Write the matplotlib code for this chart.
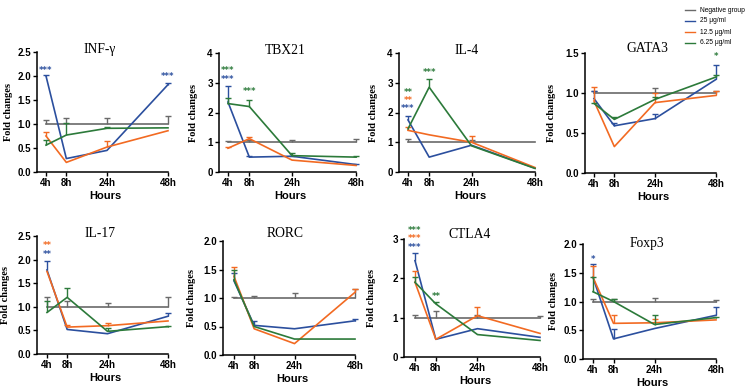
import numpy as np
import matplotlib.pyplot as plt

# time points and groups
hours = ["4h", "8h", "24h", "48h"]
hour_pos = [0, 1, 3, 6]
groups = ["Negative group", "25 μg/ml", "12.5 μg/ml", "6.25 μg/ml"]
colors = ["#6a6a6a", "#2b4f9e", "#f26a22", "#2c7a3a"]

genes = ["INF-γ", "TBX21", "IL-4", "GATA3", "IL-17", "RORC", "CTLA4", "Foxp3"]

# means (rows: negative, 25, 12.5, 6.25)
inf_mean = [[1, 1, 1, 1], [2.0, 0.28, 0.45, 1.82], [0.75, 0.2, 0.52, 0.86], [0.56, 0.77, 0.91, 0.92]]
tbx_mean = [[1, 1, 1, 1], [2.35, 0.5, 0.53, 0.25], [0.8, 1.12, 0.4, 0.22], [2.3, 2.2, 0.55, 0.5]]
il4_mean = [[1, 1, 1, 1], [1.75, 0.5, 0.9, 0.13], [1.4, 1.25, 1.0, 0.15], [1.45, 2.85, 0.88, 0.12]]
gata_mean = [[1, 1, 1, 1], [0.93, 0.59, 0.68, 1.17], [0.9, 0.33, 0.88, 0.97], [0.87, 0.67, 0.92, 1.2]]
il17_mean = [[1, 1, 1, 1], [1.78, 0.52, 0.43, 0.8], [1.75, 0.57, 0.6, 0.7], [0.88, 1.2, 0.48, 0.58]]
rorc_mean = [[1, 1, 1, 1], [1.3, 0.52, 0.46, 0.6], [1.38, 0.46, 0.2, 1.1], [1.32, 0.5, 0.28, 0.28]]
ctla_mean = [[1, 1, 1, 1], [2.45, 0.45, 0.72, 0.5], [1.9, 0.45, 1.05, 0.6], [1.9, 1.35, 0.57, 0.42]]
foxp_mean = [[1, 1, 1, 1], [1.42, 0.35, 0.53, 0.76], [1.42, 0.62, 0.63, 0.68], [1.17, 1.0, 0.6, 0.72]]

# upper ends of error bars (nan = no visible bar)
nan = np.nan
inf_top = [[1.08, 1.13, 1.13, 1.16], [2.03, nan, nan, 1.85], [0.83, nan, 0.65, nan], [0.67, 1.03, 0.93, nan]]
tbx_top = [[1.04, 1.08, 1.07, 1.1], [2.88, 0.55, 0.55, 0.27], [0.85, 1.17, nan, nan], [2.48, 2.42, 0.65, 0.55]]
il4_top = [[1.12, nan, 1.08, nan], [1.88, nan, nan, nan], [1.52, nan, 1.22, nan], [nan, 3.12, nan, nan]]
gata_top = [[1.03, nan, 1.06, 1.03], [1.02, 0.63, 0.74, 1.35], [1.08, nan, 1.0, 1.03], [0.88, 0.7, 0.95, 1.22]]
il17_top = [[1.2, 1.13, 1.07, 1.2], [1.98, nan, nan, 0.87], [nan, 0.62, 0.65, nan], [1.12, 1.4, 0.55, 0.6]]
rorc_top = [[1.02, 1.03, 1.09, 1.15], [1.44, 0.6, nan, 0.64], [1.55, nan, nan, 1.15], [1.5, nan, nan, nan]]
ctla_top = [[1.07, 1.17, 1.07, 1.05], [2.65, nan, nan, nan], [2.18, nan, 1.28, nan], [2.03, 1.4, nan, nan]]
foxp_top = [[1.05, 1.05, 1.06, 1.03], [1.65, 0.53, nan, 0.9], [1.62, 0.76, 0.7, nan], [1.42, 1.05, 0.76, 0.73]]

means = [inf_mean, tbx_mean, il4_mean, gata_mean, il17_mean, rorc_mean, ctla_mean, foxp_mean]
tops = [inf_top, tbx_top, il4_top, gata_top, il17_top, rorc_top, ctla_top, foxp_top]

# significance marks: (time index, group index, label, y)
stars = [
    [(0, 1, "***", 2.12), (3, 1, "***", 1.98)],
    [(0, 3, "***", 3.4), (0, 1, "***", 3.1), (1, 3, "***", 2.7)],
    [(0, 3, "**", 2.66), (0, 2, "**", 2.4), (0, 1, "***", 2.14), (1, 3, "***", 3.35)],
    [(3, 3, "*", 1.45)],
    [(0, 2, "**", 2.3), (0, 1, "**", 2.1)],
    [],
    [(0, 3, "***", 3.22), (0, 2, "***", 3.0), (0, 1, "***", 2.78), (1, 3, "**", 1.55)],
    [(0, 1, "*", 1.73)],
]

yticks = [
    [0, 0.5, 1.0, 1.5, 2.0, 2.5], [0, 1, 2, 3, 4], [0, 1, 2, 3, 4], [0, 0.5, 1.0, 1.5],
    [0, 0.5, 1.0, 1.5, 2.0, 2.5], [0, 0.5, 1.0, 1.5, 2.0], [0, 1, 2, 3], [0, 0.5, 1.0, 1.5, 2.0],
]
yfmt = ["%.1f", "%d", "%d", "%.1f", "%.1f", "%.1f", "%d", "%.1f"]

# panel placement in pixels: left spine x, 4h x, 48h x, y of zero, y of top
W, H = 750, 391
layout = [
    (37, 46, 168, 172, 52), (219, 228, 356, 172, 53), (399, 408, 535, 172, 53), (585, 594, 716, 173, 53),
    (37, 47, 168, 354, 236), (223, 234, 355, 355, 241), (404, 415, 540, 357, 239), (583, 593, 716, 359, 244),
]
title_xy = [(100, 50), (285, 51), (467, 50), (647, 49), (100, 233), (285, 233), (470, 235), (647, 244)]
ylab_x = [9, 194, 373, 552, 6, 191, 372, 553]

fig = plt.figure(figsize=(W / 100, H / 100), dpi=100)

for i, gene in enumerate(genes):
    left, x4, x48, y0, ytop = layout[i]
    ax = fig.add_axes([left / W, 1 - y0 / H, (x48 - left) / W, (y0 - ytop) / H])
    unit = (x48 - x4) / hour_pos[-1]
    ax.set_xlim(-(x4 - left) / unit, hour_pos[-1])
    ax.set_ylim(0, yticks[i][-1])

    order = [0, 3, 2, 1]
    for g in order:
        m = np.array(means[i][g], dtype=float)
        t = np.array(tops[i][g], dtype=float)
        ax.plot(hour_pos, m, color=colors[g], lw=1.2, zorder=3 + g, clip_on=False)
        ok = ~np.isnan(t)
        xs = np.array(hour_pos)[ok]
        ax.vlines(xs, m[ok], t[ok], color=colors[g], lw=1.0, zorder=3 + g, clip_on=False)
        ax.plot(xs, t[ok], ls="none", marker="_", ms=5, mew=1.0, color=colors[g], zorder=3 + g, clip_on=False)

    for ti, g, lab, yv in stars[i]:
        ax.text(hour_pos[ti], yv, lab, color=colors[g], fontsize=6, ha="center", va="center",
                fontweight="bold", clip_on=False)

    for s in ["top", "right"]:
        ax.spines[s].set_visible(False)
    for s in ["left", "bottom"]:
        ax.spines[s].set_linewidth(1.1)
    ax.set_xticks(hour_pos)
    ax.set_xticklabels(hours)
    ax.set_yticks(yticks[i])
    ax.set_yticklabels([yfmt[i] % v for v in yticks[i]])
    ax.tick_params(direction="out", length=3, width=1.0, pad=1.5)
    for lbl in ax.get_xticklabels() + ax.get_yticklabels():
        lbl.set_fontfamily("Liberation Sans")
        lbl.set_fontweight("bold")
        lbl.set_fontsize(7)

    tx, ty = title_xy[i]
    fig.text(tx / W, 1 - ty / H, gene, family="Liberation Serif", fontsize=9.8, ha="center", va="center")
    fig.text(ylab_x[i] / W, 1 - ((y0 + ytop) / 2) / H, "Fold changes", family="Liberation Serif",
             fontweight="bold", fontsize=7.5, rotation=90, ha="center", va="center")
    hx = (left + x48) / 2 + 3
    hy = y0 + 24
    fig.text(hx / W, 1 - hy / H, "Hours", family="Liberation Sans", fontweight="bold", fontsize=8,
             ha="center", va="center")

# legend in the top right corner
leg_y = [10, 21, 32, 43]
for g, name in enumerate(groups):
    y = 1 - leg_y[g] / H
    fig.add_artist(plt.Line2D([685 / W, 695 / W], [y, y], color=colors[g], lw=1.0))
    fig.text(700 / W, y, name, family="Liberation Sans", fontsize=4.8, ha="left", va="center")

fig.savefig("out.png", dpi=100)
